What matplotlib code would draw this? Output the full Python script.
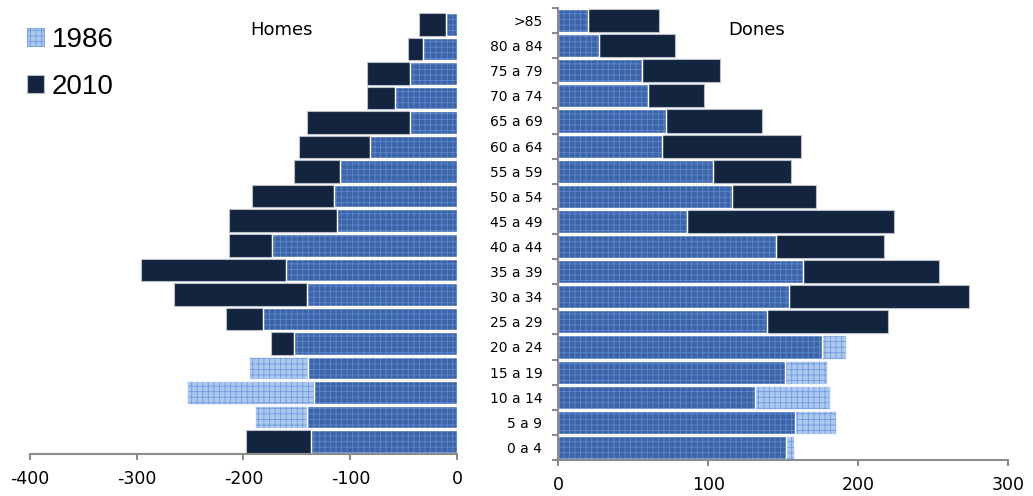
import matplotlib
matplotlib.use('Agg')
import matplotlib.pyplot as plt
from matplotlib.patches import Patch
import numpy as np

# age groups, bottom to top
ages = ['0 a 4', '5 a 9', '10 a 14', '15 a 19', '20 a 24', '25 a 29', '30 a 34',
        '35 a 39', '40 a 44', '45 a 49', '50 a 54', '55 a 59', '60 a 64',
        '65 a 69', '70 a 74', '75 a 79', '80 a 84', '>85']

homes_1986 = [137, 189, 253, 195, 153, 182, 141, 160, 173, 113, 115, 110, 82,
              44, 58, 44, 32, 11]
homes_2010 = [198, 141, 134, 140, 174, 216, 265, 296, 214, 214, 192, 153, 148,
              141, 85, 85, 46, 36]
dones_1986 = [157, 185, 181, 179, 192, 139, 154, 163, 145, 86, 116, 103, 69,
              72, 60, 56, 27, 20]
dones_2010 = [152, 158, 131, 151, 176, 220, 274, 254, 217, 224, 172, 155, 162,
              136, 97, 108, 78, 67]

navy = '#13243f'
light = '#adc8ef'
light_hatch = '#6f9be0'
mid = '#3d64a6'
mid_hatch = '#5b87cf'
grey = '#8c8c8c'

plt.rcParams['axes.unicode_minus'] = False
plt.rcParams['hatch.linewidth'] = 0.6
plt.rcParams['font.family'] = 'DejaVu Sans'

y = np.arange(len(ages))
h = 0.92


def pyramid(ax, v86, v10, sign):
    v86 = np.array(v86) * sign
    v10 = np.array(v10) * sign
    both = np.sign(v86) * np.minimum(np.abs(v86), np.abs(v10))
    ax.barh(y, v10, height=h, color=navy, edgecolor='#b9bfc9', linewidth=0.8)
    ax.barh(y, v86, height=h, color=light, edgecolor=light_hatch,
            linewidth=0, hatch='+++')
    ax.barh(y, v86, height=h, fill=False, edgecolor='#eef3fb', linewidth=0.8)
    ax.barh(y, both, height=h, color=mid, edgecolor=mid_hatch,
            linewidth=0, hatch='+++')
    ax.barh(y, both, height=h, fill=False, edgecolor='white', linewidth=1.0)
    ax.set_ylim(-0.5, len(ages) - 0.5)
    for s in ['top', 'right']:
        ax.spines[s].set_visible(False)
    ax.spines['bottom'].set_color(grey)
    ax.spines['bottom'].set_linewidth(1.5)
    ax.tick_params(axis='x', colors=grey, length=4.5, width=1.5,
                   labelsize=12.5, labelcolor='black', pad=7)


fig = plt.figure(figsize=(10.33, 4.96), dpi=100)
ax_m = fig.add_axes([29.5 / 1033, 1 - 454 / 496, 428 / 1033, 442 / 496])
ax_f = fig.add_axes([558.3 / 1033, 1 - 460 / 496, 450 / 1033, 452 / 496])

# men on the left, drawn negative
pyramid(ax_m, homes_1986, homes_2010, -1)
ax_m.set_xlim(-400, 0)
ax_m.set_xticks([-400, -300, -200, -100, 0])
ax_m.spines['left'].set_visible(False)
ax_m.set_yticks([])

# women on the right, age labels on its left spine
pyramid(ax_f, dones_1986, dones_2010, 1)
ax_f.set_xlim(0, 300)
ax_f.set_xticks([0, 100, 200, 300])
ax_f.spines['left'].set_color(grey)
ax_f.spines['left'].set_linewidth(1.5)
ax_f.set_yticks(y)
ax_f.set_yticklabels(ages)
ax_f.set_yticks(np.arange(-0.5, len(ages), 1), minor=True)
ax_f.tick_params(axis='y', which='major', length=0, pad=11.5, labelsize=10)
ax_f.tick_params(axis='y', which='minor', length=4.5, width=1.5, colors=grey)

fig.text(282 / 1033, 1 - 30 / 496, 'Homes', ha='center', va='center', fontsize=13)
fig.text(757 / 1033, 1 - 30 / 496, 'Dones', ha='center', va='center', fontsize=13)

handles = [Patch(facecolor=light, edgecolor=light_hatch, hatch='+++', linewidth=0.6),
           Patch(facecolor=navy, edgecolor='#b9bfc9', linewidth=0.8)]
fig.legend(handles, ['1986', '2010'], loc='upper left',
           bbox_to_anchor=(27 / 1033, 1 - 27 / 496), frameon=False,
           borderpad=0, borderaxespad=0,
           prop={'family': 'Liberation Sans', 'size': 20},
           handlelength=0.62, handleheight=0.62, handletextpad=0.28,
           labelspacing=0.75)

fig.savefig('out.png', dpi=100)
